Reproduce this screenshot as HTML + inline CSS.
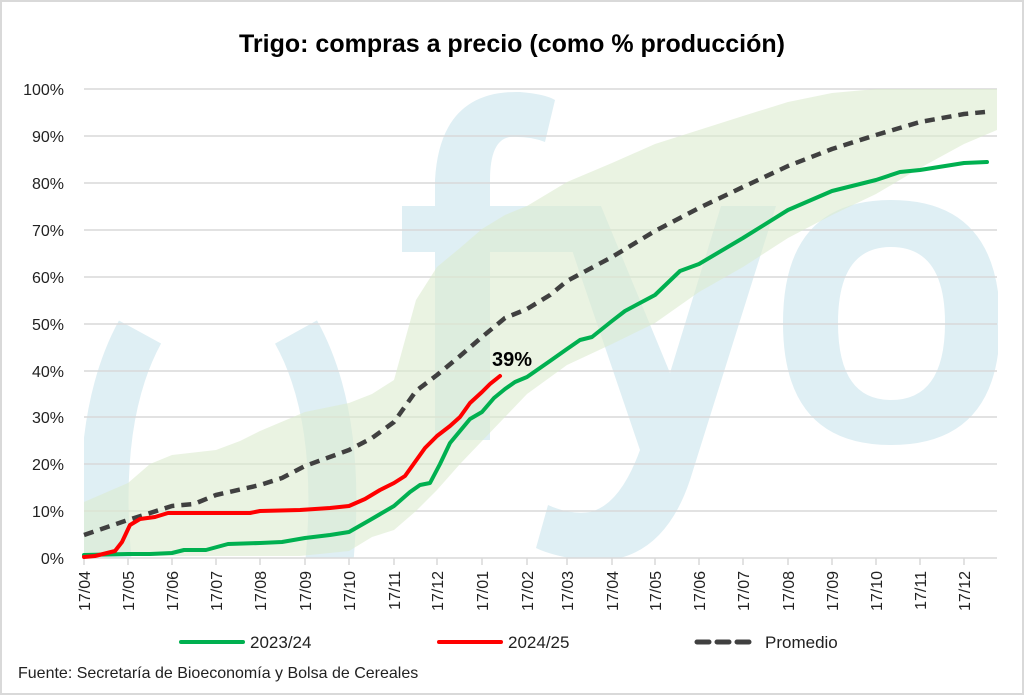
<!DOCTYPE html>
<html><head><meta charset="utf-8"><style>
html,body{margin:0;padding:0;background:#fff;}
svg{display:block;font-family:"Liberation Sans",sans-serif;}
</style></head><body>
<svg width="1024" height="695" viewBox="0 0 1024 695">
<rect x="1" y="1" width="1022" height="693" fill="#fff" stroke="#d9d9d9" stroke-width="2"/>
<text x="512" y="52" text-anchor="middle" font-size="25" font-weight="bold" fill="#000">Trigo: compras a precio (como % producción)</text>
<defs><clipPath id="pc"><rect x="84" y="80" width="914" height="478"/></clipPath></defs>
<g clip-path="url(#pc)" fill="#dfeff4" stroke="none">
<path d="M140 332 Q92 420 109 575" fill="none" stroke="#dfeff4" stroke-width="48"/>
<path d="M296 332 Q345 420 328 575" fill="none" stroke="#dfeff4" stroke-width="48"/>
<!-- f -->
<path d="M435 440 L435 180 Q440 90 520 92 Q545 94 555 100 L545 142 Q530 136 510 137 Q490 140 490 180 L490 440 Z"/>
<rect x="402" y="206" width="198" height="46"/>
<!-- y -->
<path d="M557 206 L601 206 L670 373 L721 206 L776 206 L690 480 Q660 570 580 560 Q550 555 536 548 L548 505 Q570 515 590 512 Q620 505 640 450 Z"/>
<!-- o -->
<path fill-rule="evenodd" d="M891 200 Q783 200 783 323 Q783 445 891 445 Q1000 445 1000 323 Q1000 200 891 200 Z M891 247 Q838 247 838 323 Q838 400 891 400 Q945 400 945 323 Q945 247 891 247 Z"/>
</g>
<g stroke="#d9d9d9" stroke-width="1.5">
<line x1="84" x2="997" y1="89" y2="89"/><line x1="84" x2="997" y1="136" y2="136"/><line x1="84" x2="997" y1="183" y2="183"/><line x1="84" x2="997" y1="230" y2="230"/><line x1="84" x2="997" y1="277" y2="277"/><line x1="84" x2="997" y1="324" y2="324"/><line x1="84" x2="997" y1="371" y2="371"/><line x1="84" x2="997" y1="417" y2="417"/><line x1="84" x2="997" y1="464" y2="464"/><line x1="84" x2="997" y1="511" y2="511"/><line x1="84" x2="997" y1="558" y2="558"/>
</g>
<path fill="#dcebcf" fill-opacity="0.6" d="M84 502 L128 483 L150 464 L172 455 L216 450 L240 441 L260 431 L305 412 L349 403 L372 394 L394 380 L416 300 L437 267 L460 248 L482 229 L505 215 L527 206 L567 182 L612 163 L655 144 L699 130 L743 116 L788 102 L832 93 L876 89 L997 89 L997 130 L964 144 L920 168 L876 194 L832 215 L788 238 L743 267 L699 292 L655 323 L612 344 L567 365 L527 394 L505 417 L482 441 L460 464 L437 490 L416 511 L394 530 L372 537 L349 551 L300 556 L84 556 Z"/>
<g font-size="16" fill="#222" text-anchor="end">
<text x="64" y="95">100%</text><text x="64" y="142">90%</text><text x="64" y="189">80%</text><text x="64" y="236">70%</text><text x="64" y="283">60%</text><text x="64" y="330">50%</text><text x="64" y="377">40%</text><text x="64" y="423">30%</text><text x="64" y="470">20%</text><text x="64" y="517">10%</text><text x="64" y="564">0%</text>
</g>
<g stroke="#d9d9d9" stroke-width="1.5">
<line x1="84" x2="84" y1="558" y2="565"/><line x1="128" x2="128" y1="558" y2="565"/><line x1="172" x2="172" y1="558" y2="565"/><line x1="216" x2="216" y1="558" y2="565"/><line x1="260" x2="260" y1="558" y2="565"/><line x1="305" x2="305" y1="558" y2="565"/><line x1="349" x2="349" y1="558" y2="565"/><line x1="394" x2="394" y1="558" y2="565"/><line x1="437" x2="437" y1="558" y2="565"/><line x1="482" x2="482" y1="558" y2="565"/><line x1="527" x2="527" y1="558" y2="565"/><line x1="567" x2="567" y1="558" y2="565"/><line x1="612" x2="612" y1="558" y2="565"/><line x1="655" x2="655" y1="558" y2="565"/><line x1="699" x2="699" y1="558" y2="565"/><line x1="743" x2="743" y1="558" y2="565"/><line x1="788" x2="788" y1="558" y2="565"/><line x1="832" x2="832" y1="558" y2="565"/><line x1="876" x2="876" y1="558" y2="565"/><line x1="920" x2="920" y1="558" y2="565"/><line x1="964" x2="964" y1="558" y2="565"/>
</g>
<g font-size="16" fill="#222" text-anchor="end">
<text transform="translate(90,571) rotate(-90)">17/04</text>
<text transform="translate(134,571) rotate(-90)">17/05</text>
<text transform="translate(178,571) rotate(-90)">17/06</text>
<text transform="translate(222,571) rotate(-90)">17/07</text>
<text transform="translate(266,571) rotate(-90)">17/08</text>
<text transform="translate(311,571) rotate(-90)">17/09</text>
<text transform="translate(355,571) rotate(-90)">17/10</text>
<text transform="translate(400,571) rotate(-90)">17/11</text>
<text transform="translate(443,571) rotate(-90)">17/12</text>
<text transform="translate(488,571) rotate(-90)">17/01</text>
<text transform="translate(533,571) rotate(-90)">17/02</text>
<text transform="translate(573,571) rotate(-90)">17/03</text>
<text transform="translate(618,571) rotate(-90)">17/04</text>
<text transform="translate(661,571) rotate(-90)">17/05</text>
<text transform="translate(705,571) rotate(-90)">17/06</text>
<text transform="translate(749,571) rotate(-90)">17/07</text>
<text transform="translate(794,571) rotate(-90)">17/08</text>
<text transform="translate(838,571) rotate(-90)">17/09</text>
<text transform="translate(882,571) rotate(-90)">17/10</text>
<text transform="translate(926,571) rotate(-90)">17/11</text>
<text transform="translate(970,571) rotate(-90)">17/12</text>
</g>
<g fill="none" stroke-linejoin="round" stroke-linecap="round">
<polyline stroke="#404040" stroke-width="4.5" stroke-dasharray="10 7" stroke-linecap="butt" points="84,535 128,520 172,506 194,504 216,495 260,485 282,478 305,466 349,450 372,438 394,422 416,391 437,375 460,356 482,337 505,318 527,309 550,295 567,281 612,257 655,231 699,208 743,187 788,166 832,149 876,135 920,122 964,114 985,112"/>
<polyline stroke="#00b050" stroke-width="4" points="84,555 128,554 150,554 172,553 184,550 206,550 228,544 260,543 282,542 305,538 330,535 349,532 370,520 394,506 410,492 420,485 430,483 440,464 450,443 460,431 470,419 482,412 494,398 505,389 515,382 527,377 550,361 567,349 580,340 592,337 612,321 625,311 655,295 680,271 699,264 743,238 788,210 832,191 876,180 900,172 920,170 964,163 987,162"/>
<polyline stroke="#ff0000" stroke-width="4" points="84,557 95,556 115,551 122,542 130,525 140,519 155,517 168,513 200,513 250,513 260,511 300,510 330,508 349,506 365,499 380,490 394,483 405,476 415,462 425,448 437,436 450,426 460,417 470,403 482,392 490,384 500,376"/>
</g>
<text x="492" y="366" font-size="20" font-weight="bold" fill="#000">39%</text>
<line x1="181" y1="642" x2="243" y2="642" stroke="#00b050" stroke-width="4" stroke-linecap="round"/>
<text x="250" y="648" font-size="17" fill="#222">2023/24</text>
<line x1="439" y1="642" x2="501" y2="642" stroke="#ff0000" stroke-width="4" stroke-linecap="round"/>
<text x="508" y="648" font-size="17" fill="#222">2024/25</text>
<line x1="697" y1="642" x2="752" y2="642" stroke="#404040" stroke-width="5" stroke-dasharray="12 8" stroke-linecap="round"/>
<text x="765" y="648" font-size="17" fill="#222">Promedio</text>
<text x="18" y="678" font-size="16" fill="#222">Fuente: Secretaría de Bioeconomía y Bolsa de Cereales</text>
</svg>
</body></html>
